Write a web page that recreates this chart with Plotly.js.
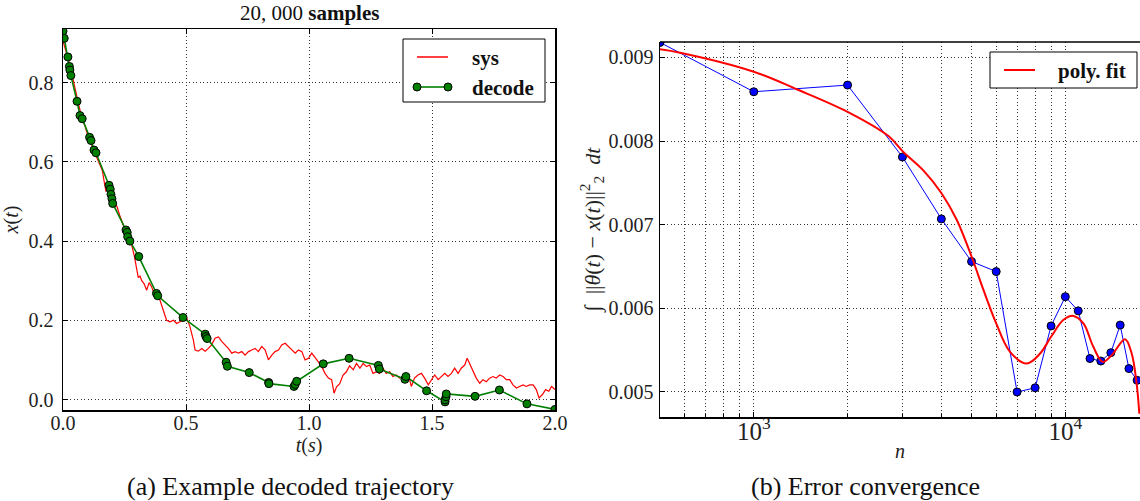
<!DOCTYPE html>
<html>
<head>
<meta charset="utf-8">
<script src="https://cdn.plot.ly/plotly-3.0.1.min.js"></script>
<style>html,body{margin:0;padding:0;background:#fff;}#chart{width:1140px;height:501px;}</style>
</head>
<body>
<div id="chart"></div>
<script>
// ---- left panel: example trajectory ----
const sysT = [0.000,0.010,0.020,0.030,0.040,0.050,0.060,0.070,0.080,0.090,0.100,0.110,0.120,0.130,0.140,0.150,0.160,0.168,0.175,0.182,0.190,0.200,0.210,0.220,0.230,0.240,0.250,0.260,0.270,0.280,0.290,0.300,0.306,0.313,0.320,0.330,0.340,0.350,0.360,0.370,0.380,0.394,0.408,0.421,0.435,0.449,0.462,0.476,0.489,0.503,0.516,0.530,0.537,0.550,0.564,0.578,0.591,0.604,0.618,0.632,0.645,0.659,0.672,0.686,0.700,0.713,0.727,0.740,0.754,0.767,0.781,0.794,0.808,0.822,0.835,0.849,0.862,0.876,0.889,0.903,0.917,0.930,0.944,0.957,0.971,0.984,0.998,1.011,1.025,1.038,1.052,1.065,1.079,1.092,1.102,1.112,1.125,1.138,1.152,1.165,1.180,1.193,1.207,1.220,1.234,1.247,1.260,1.274,1.287,1.300,1.314,1.328,1.341,1.355,1.368,1.382,1.395,1.409,1.416,1.429,1.443,1.457,1.470,1.485,1.498,1.511,1.525,1.538,1.552,1.565,1.579,1.592,1.606,1.619,1.633,1.643,1.653,1.667,1.680,1.694,1.707,1.721,1.734,1.748,1.761,1.775,1.789,1.802,1.816,1.829,1.843,1.856,1.870,1.883,1.897,1.911,1.924,1.935,1.948,1.962,1.975,1.986,2.000];
const sysX = [0.905,0.885,0.862,0.838,0.810,0.778,0.750,0.728,0.705,0.690,0.668,0.655,0.638,0.622,0.608,0.590,0.578,0.548,0.525,0.548,0.532,0.512,0.500,0.486,0.466,0.446,0.432,0.416,0.402,0.388,0.362,0.322,0.308,0.312,0.300,0.292,0.276,0.295,0.285,0.268,0.262,0.251,0.226,0.200,0.196,0.200,0.192,0.196,0.200,0.205,0.184,0.150,0.125,0.122,0.129,0.122,0.129,0.138,0.155,0.158,0.147,0.138,0.129,0.117,0.121,0.117,0.121,0.112,0.121,0.125,0.129,0.121,0.134,0.125,0.100,0.112,0.121,0.125,0.138,0.142,0.134,0.125,0.117,0.125,0.121,0.100,0.104,0.117,0.104,0.095,0.083,0.066,0.054,0.050,0.016,0.032,0.040,0.061,0.070,0.085,0.075,0.091,0.079,0.091,0.083,0.087,0.066,0.070,0.066,0.079,0.066,0.070,0.058,0.062,0.054,0.058,0.066,0.050,0.033,0.054,0.062,0.066,0.054,0.037,0.050,0.062,0.050,0.058,0.066,0.058,0.066,0.079,0.066,0.079,0.087,0.104,0.091,0.075,0.054,0.041,0.050,0.045,0.054,0.058,0.054,0.062,0.058,0.050,0.050,0.037,0.029,0.033,0.037,0.033,0.037,0.037,0.025,0.004,0.012,0.025,0.021,0.033,0.025];

const decT = [0.000,0.005,0.020,0.026,0.028,0.032,0.057,0.069,0.078,0.108,0.114,0.126,0.134,0.187,0.192,0.195,0.199,0.202,0.256,0.261,0.263,0.272,0.308,0.380,0.385,0.488,0.578,0.581,0.586,0.663,0.668,0.757,0.836,0.837,0.939,0.944,0.950,1.058,1.163,1.282,1.286,1.390,1.394,1.478,1.553,1.553,1.557,1.558,1.675,1.774,1.886,2.000];
const decX = [0.930,0.912,0.865,0.841,0.832,0.818,0.753,0.717,0.709,0.662,0.654,0.630,0.623,0.541,0.531,0.518,0.507,0.495,0.428,0.422,0.411,0.400,0.361,0.268,0.262,0.207,0.165,0.159,0.154,0.094,0.084,0.068,0.043,0.040,0.033,0.038,0.046,0.090,0.104,0.086,0.077,0.051,0.058,0.022,-0.006,-0.001,0.007,0.014,0.008,0.024,-0.011,-0.025];

const leftXTicks = [0.0,0.5,1.0,1.5,2.0];
const leftYTicks = [0.0,0.2,0.4,0.6,0.8];

// ---- right panel: error convergence ----
const nSamples = [500,1000,2000,3000,4000,5000,6000,7000,8000,9000,10000,11000,12000,13000,14000,15000,16000,17000];
const errVals  = [0.00918,0.00859,0.00867,0.00781,0.00707,0.00656,0.00644,0.00500,0.00505,0.00579,0.00614,0.00597,0.00540,0.00537,0.00547,0.00580,0.00528,0.00514];

const fitN   = [500,580,1000,1374,2000,2705,3020,3500,4000,4480,5000,5460,6000,6645,7515,8300,9000,9850,10610,11430,12300,13180,14090,15550,16330,16940,17280];
const fitVal = [0.009098,0.009057,0.00883,0.00862,0.00835,0.00806,0.00787,0.00765,0.00738,0.00706,0.00662,0.00622,0.00582,0.00548,0.00534,0.00546,0.00566,0.00586,0.00591,0.00582,0.00554,0.00536,0.00544,0.00563,0.00546,0.00510,0.00474];

const rightYTicks = [0.005,0.006,0.007,0.008,0.009];

const legendLeft  = ['sys', 'decode'];
const legendRight = ['poly. fit'];

const FONT = '"Liberation Serif", "DejaVu Serif", serif';
const W = 1140, H = 501;
const px = v => v / W, py = v => 1 - v / H;
const GRID = '#333', GDASH = '1px,2.5px';

const gridStyle = {showgrid:true, gridcolor:GRID, griddash:GDASH, gridwidth:1};
const axisLine = {showline:true, linecolor:'#000', linewidth:1.5, ticks:'inside', ticklen:5, tickcolor:'#000', zeroline:false, tickfont:{size:20, color:'#222'}};

const traces = [
  {x:sysT, y:sysX, type:'scatter', mode:'lines', name:legendLeft[0], line:{color:'#ff0000', width:1.2}, xaxis:'x', yaxis:'y', showlegend:false},
  {x:decT, y:decX, type:'scatter', mode:'lines+markers', name:legendLeft[1], line:{color:'#008000', width:1.6},
   marker:{color:'#008000', size:8, line:{color:'#000', width:1}}, xaxis:'x', yaxis:'y', showlegend:false},
  {x:nSamples, y:errVals, type:'scatter', mode:'lines+markers', name:'data', showlegend:false,
   line:{color:'#0000ff', width:1}, marker:{color:'#0000ff', size:8, line:{color:'#000', width:1}}, xaxis:'x2', yaxis:'y2'},
  {x:fitN, y:fitVal, type:'scatter', mode:'lines', name:legendRight[0], line:{color:'#ff0000', width:2, shape:'spline', smoothing:1},
   xaxis:'x2', yaxis:'y2', showlegend:false}
];

// legend boxes (drawn as paper shapes + text)
function legendRect(x0, x1, y0, y1) {
  return {type:'rect', xref:'paper', yref:'paper', x0:px(x0), x1:px(x1), y0:py(y1), y1:py(y0), fillcolor:'#fff', line:{color:'#000', width:1}};
}
function legendLine(x0, x1, y, color, width) {
  return {type:'line', xref:'paper', yref:'paper', x0:px(x0), x1:px(x1), y0:py(y), y1:py(y), line:{color:color, width:width}};
}
function legendDot(x, y, color) {
  return {type:'circle', xref:'paper', yref:'paper', xsizemode:'pixel', ysizemode:'pixel', xanchor:px(x), yanchor:py(y),
    x0:-4, x1:4, y0:-4, y1:4, fillcolor:color, line:{color:'#000', width:1}};
}
function legendText(text, x, y) {
  return {text:'<b>'+text+'</b>', xref:'paper', yref:'paper', x:px(x), y:py(y), xanchor:'left', yanchor:'middle', showarrow:false,
    font:{size:21, color:'#111'}};
}

const layout = {
  width:W, height:H, margin:{l:0,r:0,t:0,b:0}, paper_bgcolor:'#fff', plot_bgcolor:'#fff',
  font:{family:FONT, size:20, color:'#222'},
  showlegend:false,
  xaxis:Object.assign({}, gridStyle, axisLine, {domain:[px(63), px(555)], range:[0,2], tickvals:leftXTicks, tickformat:'.1f',
    mirror:'ticks', anchor:'y', ticklabelstandoff:-6, title:{text:'<i>t</i>(<i>s</i>)', font:{size:20}, standoff:2}}),
  yaxis:Object.assign({}, gridStyle, axisLine, {domain:[py(410), py(29)], range:[-0.0265,0.9356], tickvals:leftYTicks, tickformat:'.1f',
    mirror:'ticks', anchor:'x', ticklabelstandoff:4, title:{text:'<i>x</i>(<i>t</i>)', font:{size:20}, standoff:4}}),
  xaxis2:Object.assign({}, gridStyle, axisLine, {type:'log', domain:[px(660), 1], range:[Math.log10(500), 4.2397], dtick:1,
    exponentformat:'power', showexponent:'all', mirror:false, anchor:'y2', ticklabelstandoff:-8,
    minor:{dtick:'D1', showgrid:true, gridcolor:GRID, griddash:GDASH, gridwidth:1, ticks:'inside', ticklen:3, tickcolor:'#000'},
    title:{text:'<i>n</i>', font:{size:20}, standoff:0}}),
  yaxis2:Object.assign({}, gridStyle, axisLine, {domain:[py(417), py(42)], range:[0.004701,0.009185], tickvals:rightYTicks, tickformat:'.3f',
    mirror:false, anchor:'x2', ticklabelstandoff:1,
    title:{text:'∫  ||<i>θ</i>(<i>t</i>) − <i>x</i>(<i>t</i>)||<sup>2</sup><sub>2</sub>  <i>dt</i>', font:{size:22}, standoff:2}}),
  shapes:[
    {type:'line', xref:'paper', yref:'paper', x0:px(660), x1:1, y0:py(42), y1:py(42), line:{color:'#000', width:1.5}},
    legendRect(403, 545, 39, 102),
    legendLine(417, 448, 57, '#ff0000', 1.5),
    legendLine(417, 448, 87, '#008000', 1.6),
    legendDot(417, 87, '#008000'),
    legendDot(448, 87, '#008000'),
    legendRect(990, 1137, 52, 88),
    legendLine(1004, 1035, 70, '#ff0000', 2)
  ],
  annotations:[
    legendText(legendLeft[0], 470, 58),
    legendText(legendLeft[1], 470, 88),
    legendText(legendRight[0], 1056, 71),
    {text:'20, 000 <b>samples</b>', xref:'paper', yref:'paper', x:px(309), y:py(13), xanchor:'center', yanchor:'middle', showarrow:false, font:{size:21, color:'#111'}},
    {text:'(a) Example decoded trajectory', xref:'paper', yref:'paper', x:px(290), y:py(486), xanchor:'center', yanchor:'middle', showarrow:false, font:{size:26, color:'#111'}},
    {text:'(b) Error convergence', xref:'paper', yref:'paper', x:px(865), y:py(486), xanchor:'center', yanchor:'middle', showarrow:false, font:{size:26, color:'#111'}}
  ]
};

Plotly.newPlot('chart', traces, layout, {displayModeBar:false, staticPlot:true});
</script>
</body>
</html>
